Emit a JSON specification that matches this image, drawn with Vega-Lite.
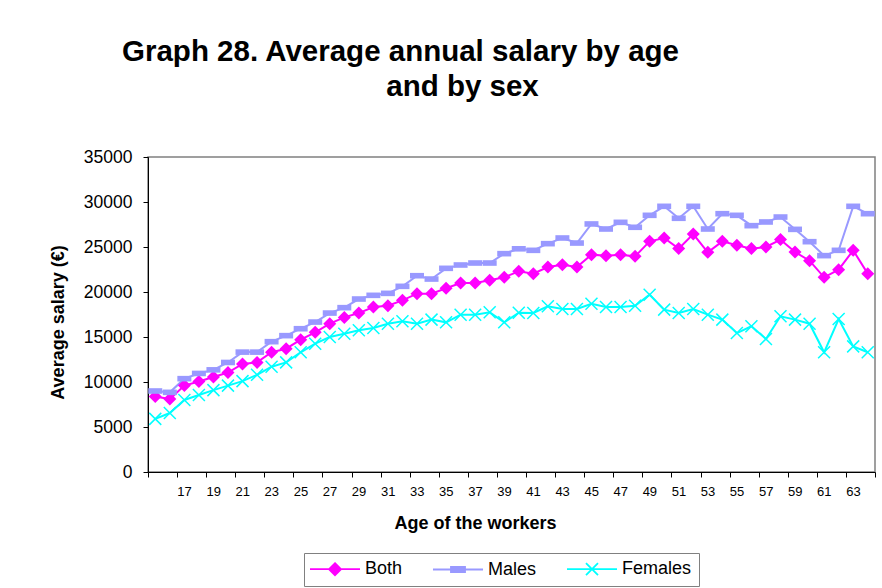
{
  "$schema": "https://vega.github.io/schema/vega-lite/v6.json",
  "autosize": "none",
  "width": 727,
  "height": 315,
  "padding": {"left": 148, "top": 157, "right": 7, "bottom": 116},
  "background": "white",
  "config": {
    "font": "Liberation Sans",
    "view": {"stroke": "#808080", "strokeWidth": 1.5}
  },
  "title": {
    "text": "Graph 28. Average annual salary by age",
    "font": "Liberation Sans",
    "fontSize": 29.5,
    "fontWeight": "bold",
    "color": "black",
    "anchor": "middle",
    "frame": "group",
    "dx": -111,
    "offset": 4
  },
  "data": {
    "values": [
      {"age": 15, "Both": 8400, "Males": 9000, "Females": 5900},
      {"age": 16, "Both": 8100, "Males": 8850, "Females": 6550},
      {"age": 17, "Both": 9600, "Males": 10370, "Females": 8000},
      {"age": 18, "Both": 10050, "Males": 10950, "Females": 8550},
      {"age": 19, "Both": 10550, "Males": 11350, "Females": 9100},
      {"age": 20, "Both": 11050, "Males": 12170, "Females": 9600},
      {"age": 21, "Both": 12000, "Males": 13320, "Females": 10100},
      {"age": 22, "Both": 12180, "Males": 13320, "Females": 10800},
      {"age": 23, "Both": 13300, "Males": 14480, "Females": 11700},
      {"age": 24, "Both": 13700, "Males": 15150, "Females": 12180},
      {"age": 25, "Both": 14700, "Males": 15920, "Females": 13300},
      {"age": 26, "Both": 15520, "Males": 16660, "Females": 14260},
      {"age": 27, "Both": 16480, "Males": 17660, "Females": 15000},
      {"age": 28, "Both": 17180, "Males": 18260, "Females": 15370},
      {"age": 29, "Both": 17660, "Males": 19220, "Females": 15740},
      {"age": 30, "Both": 18330, "Males": 19630, "Females": 16000},
      {"age": 31, "Both": 18480, "Males": 19850, "Females": 16480},
      {"age": 32, "Both": 19070, "Males": 20630, "Females": 16740},
      {"age": 33, "Both": 19810, "Males": 21810, "Females": 16480},
      {"age": 34, "Both": 19810, "Males": 21440, "Females": 16930},
      {"age": 35, "Both": 20410, "Males": 22630, "Females": 16630},
      {"age": 36, "Both": 21000, "Males": 23000, "Females": 17480},
      {"age": 37, "Both": 21000, "Males": 23220, "Females": 17480},
      {"age": 38, "Both": 21300, "Males": 23220, "Females": 17740},
      {"age": 39, "Both": 21630, "Males": 24260, "Females": 16630},
      {"age": 40, "Both": 22300, "Males": 24800, "Females": 17700},
      {"age": 41, "Both": 22040, "Males": 24630, "Females": 17670},
      {"age": 42, "Both": 22780, "Males": 25370, "Females": 18410},
      {"age": 43, "Both": 23040, "Males": 26000, "Females": 18110},
      {"age": 44, "Both": 22780, "Males": 25440, "Females": 18110},
      {"age": 45, "Both": 24150, "Males": 27560, "Females": 18700},
      {"age": 46, "Both": 24040, "Males": 27000, "Females": 18330},
      {"age": 47, "Both": 24150, "Males": 27740, "Females": 18330},
      {"age": 48, "Both": 23960, "Males": 27190, "Females": 18480},
      {"age": 49, "Both": 25630, "Males": 28520, "Females": 19700},
      {"age": 50, "Both": 26000, "Males": 29520, "Females": 18040},
      {"age": 51, "Both": 24820, "Males": 28190, "Females": 17670},
      {"age": 52, "Both": 26440, "Males": 29520, "Females": 18110},
      {"age": 53, "Both": 24410, "Males": 27000, "Females": 17480},
      {"age": 54, "Both": 25630, "Males": 28700, "Females": 16930},
      {"age": 55, "Both": 25190, "Males": 28520, "Females": 15440},
      {"age": 56, "Both": 24820, "Males": 27370, "Females": 16190},
      {"age": 57, "Both": 25000, "Males": 27780, "Females": 14780},
      {"age": 58, "Both": 25820, "Males": 28330, "Females": 17300},
      {"age": 59, "Both": 24440, "Males": 26960, "Females": 16930},
      {"age": 60, "Both": 23480, "Males": 25590, "Females": 16480},
      {"age": 61, "Both": 21630, "Males": 24040, "Females": 13300},
      {"age": 62, "Both": 22480, "Males": 24630, "Females": 17000},
      {"age": 63, "Both": 24630, "Males": 29520, "Females": 13960},
      {"age": 64, "Both": 22040, "Males": 28700, "Females": 13300}
    ]
  },
  "transform": [
    {"fold": ["Both", "Males", "Females"], "as": ["series", "salary"]}
  ],
  "encoding": {
    "x": {
      "field": "age",
      "type": "quantitative",
      "scale": {"domain": [14.5, 64.5], "nice": false, "zero": false},
      "axis": null
    },
    "y": {
      "field": "salary",
      "type": "quantitative",
      "scale": {"domain": [0, 35000], "nice": false},
      "axis": {
        "title": "Average salary (€)",
        "values": [0, 5000, 10000, 15000, 20000, 25000, 30000, 35000],
        "format": "d",
        "labelFontSize": 17.5,
        "labelColor": "black",
        "labelPadding": 11,
        "tickColor": "black",
        "tickSize": 5,
        "domainColor": "black",
        "grid": false,
        "titleFontSize": 18,
        "titleFontWeight": "bold",
        "titleColor": "black",
        "titlePadding": 16,
        "titleY": 165
      }
    },
    "color": {
      "field": "series",
      "type": "nominal",
      "sort": ["Both", "Males", "Females"],
      "scale": {"domain": ["Both", "Males", "Females"], "range": ["#FF00FF", "#9999FF", "#00FFFF"]},
      "legend": {
        "title": null,
        "orient": "none",
        "legendX": 156,
        "legendY": 396,
        "direction": "horizontal",
        "columns": 3,
        "padding": 7,
        "strokeColor": "#808080",
        "fillColor": "white",
        "labelFontSize": 18,
        "labelColor": "black",
        "symbolSize": 144,
        "symbolStrokeWidth": 2,
        "symbolOffset": 15,
        "labelOffset": 21,
        "columnPadding": 26,
        "encode": {
          "symbols": {
            "update": {
              "shape": {"signal": "datum.value === 'Both' ? 'M-4.17,0L4.17,0M0,-1L1,0L0,1L-1,0Z' : datum.value === 'Males' ? 'M-4.17,0L4.17,0M-1.17,-0.45L1.17,-0.45L1.17,0.45L-1.17,0.45Z' : 'M-4.17,0L4.17,0M-1,-1L1,1M-1,1L1,-1'"},
              "fill": {"signal": "scale('color', datum.value)"},
              "stroke": {"signal": "scale('color', datum.value)"},
              "strokeWidth": {"value": 1.8},
              "opacity": {"value": 1}
            }
          }
        }
      }
    }
  },
  "layer": [
    {
      "mark": {"type": "line", "strokeWidth": 2},
      "encoding": {
        "x": {
          "field": "age",
          "type": "quantitative",
          "scale": {"domain": [14.5, 64.5], "nice": false, "zero": false},
          "axis": {
            "orient": "bottom",
            "title": "Age of the workers",
            "values": [14.5, 16.5, 18.5, 20.5, 22.5, 24.5, 26.5, 28.5, 30.5, 32.5, 34.5, 36.5, 38.5, 40.5, 42.5, 44.5, 46.5, 48.5, 50.5, 52.5, 54.5, 56.5, 58.5, 60.5, 62.5, 64.5],
            "labelExpr": "datum.value < 16 || datum.value > 64 ? '' : format(datum.value + 0.5, 'd')",
            "labelOffset": 7,
            "labelFontSize": 13,
            "labelColor": "black",
            "labelPadding": 8,
            "labelFlush": false,
            "labelOverlap": false,
            "tickColor": "black",
            "tickSize": 5,
            "domainColor": "black",
            "grid": false,
            "titleFontSize": 18,
            "titleFontWeight": "bold",
            "titleColor": "black",
            "titleX": 327,
            "titlePadding": 16
          }
        }
      }
    },
    {
      "transform": [{"filter": "datum.series === 'Both'"}],
      "mark": {"type": "point", "shape": "M0,-1L1,0L0,1L-1,0Z", "filled": true, "size": 169, "opacity": 1},
      "encoding": {
        "x": {
          "field": "age",
          "type": "quantitative",
          "scale": {"domain": [14.5, 64.5], "nice": false, "zero": false},
          "axis": {
            "orient": "top",
            "title": "and by sex",
            "domain": false,
            "ticks": false,
            "labels": false,
            "grid": false,
            "titleFont": "Liberation Sans",
            "titleFontSize": 29.5,
            "titleFontWeight": "bold",
            "titleColor": "black",
            "titleAlign": "center",
            "titleBaseline": "alphabetic",
            "titleX": 314,
            "titleY": -62
          }
        }
      }
    },
    {
      "transform": [{"filter": "datum.series === 'Males'"}],
      "mark": {"type": "point", "shape": "M-1,-0.4L1,-0.4L1,0.4L-1,0.4Z", "filled": true, "size": 196, "opacity": 1}
    },
    {
      "transform": [{"filter": "datum.series === 'Females'"}],
      "mark": {"type": "point", "shape": "M-1,-1L1,1M-1,1L1,-1", "filled": false, "size": 144, "strokeWidth": 1.5, "opacity": 1}
    }
  ],
  "resolve": {"axis": {"x": "independent"}}
}
